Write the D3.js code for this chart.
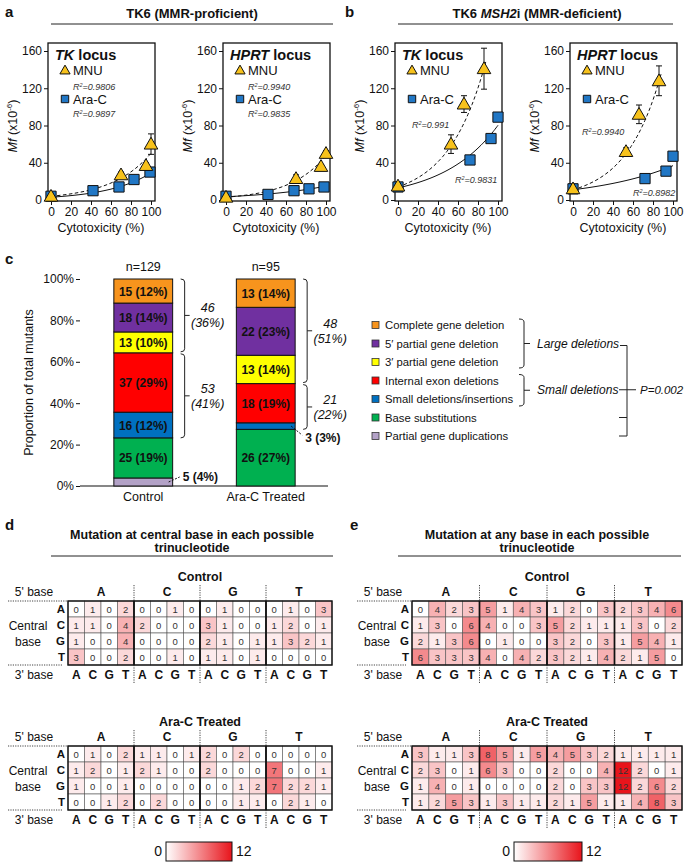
<!DOCTYPE html>
<html>
<head>
<meta charset="utf-8">
<script src="https://cdn.jsdelivr.net/npm/d3@7"></script>
<style>
  body { margin: 0; background: #fff; }
  svg { font-family: "Liberation Sans", Arial, Helvetica, sans-serif; }
</style>
</head>
<body>
<div id="fig"></div>
<script>
// ---------- panels a/b : mutant frequency vs cytotoxicity, [cytotox %, Mf, error]
var tkMnuA   = [[0, 4, 0], [70, 27, 3], [95, 37, 3], [100, 60, 11]];
var tkAraA   = [[0, 4, 0], [42, 10, 0], [68, 14, 0], [83, 22, 0], [99, 30, 0]];
var hprtMnuA = [[0, 3, 0], [70, 23, 4], [95, 36, 2], [100, 50, 3]];
var hprtAraA = [[0, 4, 0], [42, 6, 0], [68, 10, 0], [83, 12, 0], [98, 14, 0]];
var tkMnuB   = [[0, 15, 2], [53, 60, 10], [66, 103, 9], [86, 141, 22]];
var tkAraB   = [[0, 14, 0], [72, 43, 0], [93, 66, 0], [100, 89, 2]];
var hprtMnuB = [[0, 12, 0], [53, 52, 4], [66, 92, 10], [86, 128, 16]];
var hprtAraB = [[0, 12, 0], [72, 23, 0], [93, 31, 4], [100, 47, 0]];
// exponential fits, [intercept, rate, last x]  (MNU, Ara-C)
var tkFitA   = [[4, 0.0253, 100], [3, 0.0227, 100]];
var hprtFitA = [[3, 0.0277, 100], [3.5, 0.01455, 100]];
var tkFitB   = [[14, 0.0269, 88], [13, 0.0182, 100]];
var hprtFitB = [[11, 0.0285, 88], [11, 0.0121, 100]];
var r2Labels = [['0.9806', '0.9897'], ['0.9940', '0.9835'], ['0.991', '0.9831'], ['0.9940', '0.8982']];
var mfTicks = [0, 40, 80, 120, 160];
var cytoTicks = [0, 20, 40, 60, 80, 100];

// ---------- panel c : mutant classes (bottom to top)
var mutClasses = ['Partial gene duplications', 'Base substitutions', 'Small deletions/insertions',
  'Internal exon deletions', '3\u2032 partial gene deletion', '5\u2032 partial gene deletion', 'Complete gene deletion'];
var mutColors = ['#b3a2c7', '#00b050', '#0070c0', '#ff0000', '#ffff00', '#7030a0', '#f7941d'];
var groups = ['Control', 'Ara-C Treated'];
var controlCounts = [5, 25, 16, 37, 13, 18, 15];
var controlPct    = [4, 19, 12, 29, 10, 14, 12];
var aracCounts    = [0, 26, 3, 18, 13, 22, 13];
var aracPct       = [0, 27, 3, 19, 14, 23, 14];
var groupN = [129, 95];
var largeDel = [['46', '(36%)'], ['48', '(51%)']];
var smallDel = [['53', '(41%)'], ['21', '(22%)']];

// ---------- panels d/e : trinucleotide heat maps, rows = central base, cols = 5' block x 3' base
var bases = ['A', 'C', 'G', 'T'];
var dControl = [
  [0, 1, 0, 2, 0, 0, 1, 0, 0, 1, 0, 0, 0, 1, 0, 3],
  [1, 1, 0, 4, 2, 0, 0, 0, 3, 1, 0, 0, 1, 2, 0, 1],
  [1, 0, 0, 4, 0, 0, 0, 0, 2, 1, 0, 1, 1, 3, 2, 1],
  [3, 0, 0, 2, 0, 0, 1, 0, 1, 1, 0, 1, 0, 0, 0, 0]];
var dArac = [
  [0, 1, 0, 2, 1, 1, 0, 1, 2, 0, 2, 0, 0, 0, 0, 0],
  [1, 2, 0, 1, 2, 1, 0, 0, 2, 0, 0, 0, 7, 0, 0, 1],
  [1, 0, 0, 1, 0, 0, 0, 0, 0, 0, 1, 2, 7, 2, 2, 1],
  [0, 0, 1, 2, 0, 2, 0, 0, 0, 0, 1, 1, 0, 2, 1, 0]];
var eControl = [
  [0, 4, 2, 3, 5, 1, 4, 3, 1, 2, 0, 3, 2, 3, 4, 6],
  [1, 3, 0, 6, 4, 0, 0, 3, 5, 2, 1, 1, 1, 3, 0, 2],
  [2, 1, 3, 6, 0, 1, 0, 0, 3, 2, 0, 3, 1, 5, 4, 1],
  [6, 3, 3, 3, 4, 0, 4, 2, 3, 2, 1, 4, 2, 1, 5, 0]];
var eArac = [
  [3, 1, 1, 3, 8, 5, 1, 5, 4, 5, 3, 2, 1, 1, 1, 1],
  [2, 3, 0, 1, 6, 3, 0, 0, 2, 0, 0, 4, 12, 2, 0, 1],
  [1, 4, 0, 1, 0, 0, 0, 0, 2, 0, 3, 3, 12, 2, 6, 2],
  [1, 2, 5, 3, 1, 3, 1, 1, 2, 1, 5, 1, 1, 4, 8, 3]];
var heatMax = 12;

var svg = d3.select('#fig').append('svg').attr('width', 685).attr('height', 864);
var heatColor = d3.scaleLinear().domain([0, heatMax]).range(['#ffffff', '#e8141b']);

function txt(x, y, s, size, opts) {
  opts = opts || {};
  return svg.append('text').attr('x', x).attr('y', y).text(s)
    .attr('font-size', size)
    .attr('font-weight', opts.bold ? 'bold' : null)
    .attr('font-style', opts.italic ? 'italic' : null)
    .attr('text-anchor', opts.anchor || 'start')
    .attr('fill', '#111');
}

function panelHeader(letter, lx, ly, cx, parts, lineX1, lineX2, lineY, ty) {
  txt(lx, ly, letter, 15, {bold: true});
  var t = svg.append('text').attr('x', cx).attr('y', ty).attr('text-anchor', 'middle')
    .attr('font-size', 13).attr('font-weight', 'bold').attr('fill', '#111');
  parts.forEach(function(p){
    t.append('tspan').text(p[0]).attr('font-style', p[1] ? 'italic' : null);
  });
  svg.append('line').attr('x1', lineX1).attr('x2', lineX2).attr('y1', lineY).attr('y2', lineY)
    .attr('stroke', '#222').attr('stroke-width', 1);
}

// ---------------------------------------------------------------- a / b
function drawScatter(p) {
  var x = d3.scaleLinear().domain([0, 100]).range([p.x0 + 3, p.x0 + 103]);
  var y = d3.scaleLinear().domain([0, 160]).range([200, 51]);
  var g = svg.append('g');

  var ay = g.append('g').attr('transform', 'translate(' + p.x0 + ',0)')
    .call(d3.axisLeft(y).tickValues(mfTicks).tickSize(4).tickPadding(2));
  var ax = g.append('g').attr('transform', 'translate(0,201)')
    .call(d3.axisBottom(x).tickValues(cytoTicks).tickSize(4).tickPadding(2));
  [ay, ax].forEach(function(a){
    a.attr('font-family', null).attr('font-size', 12);
    a.select('.domain').remove();
    a.selectAll('line').attr('stroke', '#111');
    a.selectAll('text').attr('fill', '#111');
  });

  g.append('rect').attr('x', p.x0).attr('y', 43).attr('width', 107).attr('height', 158)
    .attr('fill', 'none').attr('stroke', '#111').attr('stroke-width', 1.3);

  // fitted curves
  var line = d3.line().x(function(d){ return x(d[0]); }).y(function(d){ return y(d[1]); });
  p.fit.forEach(function(f, i){
    var pts = d3.range(0, f[2] + 0.01, 1).map(function(v){ return [v, f[0] * Math.exp(f[1] * v)]; });
    g.append('path').attr('d', line(pts)).attr('fill', 'none').attr('stroke', '#111')
      .attr('stroke-width', 1).attr('stroke-dasharray', i === 0 ? '3.5,2.5' : null);
  });

  // error bars
  p.mnu.concat(p.ara).filter(function(d){ return d[2] > 0; }).forEach(function(d){
    var cx = x(d[0]);
    g.append('path').attr('d', 'M' + cx + ',' + y(d[1] - d[2]) + 'V' + y(d[1] + d[2]) +
      'M' + (cx - 3) + ',' + y(d[1] + d[2]) + 'H' + (cx + 3) +
      'M' + (cx - 3) + ',' + y(d[1] - d[2]) + 'H' + (cx + 3))
      .attr('stroke', '#111').attr('stroke-width', 1);
  });

  g.selectAll('.sq').data(p.ara).enter().append('path')
    .attr('d', d3.symbol(d3.symbolSquare).size(105))
    .attr('transform', function(d){ return 'translate(' + x(d[0]) + ',' + y(d[1]) + ')'; })
    .attr('fill', '#2177c5').attr('stroke', '#111').attr('stroke-width', 1);
  g.selectAll('.tri').data(p.mnu).enter().append('path')
    .attr('d', d3.symbol(d3.symbolTriangle).size(80))
    .attr('transform', function(d){ return 'translate(' + x(d[0]) + ',' + (y(d[1]) + 1) + ')'; })
    .attr('fill', '#f7c21c').attr('stroke', '#111').attr('stroke-width', 1);

  // in-box legend
  var t = g.append('text').attr('x', p.x0 + 7).attr('y', 60).attr('font-size', 14.5)
    .attr('font-weight', 'bold').attr('fill', '#111');
  t.append('tspan').text(p.locus).attr('font-style', 'italic');
  t.append('tspan').text(' locus');
  g.append('path').attr('d', d3.symbol(d3.symbolTriangle).size(45))
    .attr('transform', 'translate(' + (p.x0 + 17) + ',' + 71 + ')')
    .attr('fill', '#f7c21c').attr('stroke', '#111');
  g.append('text').attr('x', p.x0 + 25).attr('y', 75).attr('font-size', 13).attr('fill', '#111').text('MNU');
  g.append('path').attr('d', d3.symbol(d3.symbolSquare).size(55))
    .attr('transform', 'translate(' + (p.x0 + 17) + ',' + 99 + ')')
    .attr('fill', '#2177c5').attr('stroke', '#111');
  g.append('text').attr('x', p.x0 + 25).attr('y', 103.5).attr('font-size', 13).attr('fill', '#111').text('Ara-C');

  p.r2.forEach(function(r, i){
    var rt = g.append('text').attr('x', p.r2pos[i][0]).attr('y', p.r2pos[i][1])
      .attr('font-size', 9).attr('font-style', 'italic').attr('fill', '#333');
    rt.append('tspan').text('R');
    rt.append('tspan').text('2').attr('font-size', 5.5).attr('dy', -3.5);
    rt.append('tspan').text('=' + r).attr('dy', 3.5);
  });

  // axis titles
  var yl = g.append('text').attr('transform', 'translate(' + (p.x0 - 31) + ',126) rotate(-90)')
    .attr('text-anchor', 'middle').attr('font-size', 12.5).attr('fill', '#111');
  yl.append('tspan').text('Mf').attr('font-style', 'italic');
  yl.append('tspan').text(' (x10');
  yl.append('tspan').text('-6').attr('font-size', 8).attr('dy', -5);
  yl.append('tspan').text(')').attr('dy', 5);
  g.append('text').attr('x', p.x0 + 53).attr('y', 232).attr('text-anchor', 'middle')
    .attr('font-size', 12.5).attr('fill', '#111').text('Cytotoxicity (%)');
}

panelHeader('a', 5, 17, 192, [['TK6 (MMR-proficient)', false]], 51, 333, 24, 18);
panelHeader('b', 345, 17, 537, [['TK6 ', false], ['MSH2', true], ['i (MMR-deficient)', false]], 398, 673, 24, 18);

drawScatter({x0: 48, locus: 'TK', mnu: tkMnuA, ara: tkAraA, fit: tkFitA, r2: r2Labels[0], r2pos: [[73, 90], [73, 117]]});
drawScatter({x0: 223, locus: 'HPRT', mnu: hprtMnuA, ara: hprtAraA, fit: hprtFitA, r2: r2Labels[1], r2pos: [[248, 90], [248, 117]]});
drawScatter({x0: 395, locus: 'TK', mnu: tkMnuB, ara: tkAraB, fit: tkFitB, r2: r2Labels[2], r2pos: [[412, 128], [455, 183]]});
drawScatter({x0: 570, locus: 'HPRT', mnu: hprtMnuB, ara: hprtAraB, fit: hprtFitB, r2: r2Labels[3], r2pos: [[582, 135], [633, 196]]});

// ---------------------------------------------------------------- c
txt(5, 264, 'c', 15, {bold: true});
var yc = d3.scaleLinear().domain([0, 1]).range([486, 279]);
var xc = d3.scaleBand().domain(groups).range([82, 327]).paddingInner(0.52).paddingOuter(0.26);

var tableRows = groups.map(function(gname, gi){
  var counts = gi === 0 ? controlCounts : aracCounts;
  var row = {group: gname};
  mutClasses.forEach(function(k, i){ row[k] = counts[i] / groupN[gi]; });
  return row;
});
var stacked = d3.stack().keys(mutClasses)(tableRows);

var cy = svg.append('g').attr('transform', 'translate(80,0)')
  .call(d3.axisLeft(yc).tickValues([0, 0.2, 0.4, 0.6, 0.8, 1]).tickFormat(d3.format('.0%')).tickSize(4).tickPadding(2));
cy.attr('font-family', null).attr('font-size', 12);
cy.select('.domain').remove();
cy.selectAll('text').attr('fill', '#111');
cy.selectAll('line').attr('stroke', '#111');
svg.append('line').attr('x1', 80).attr('x2', 328).attr('y1', yc(0)).attr('y2', yc(0)).attr('stroke', '#111').attr('stroke-width', 1.2);
svg.append('text').attr('transform', 'translate(33,' + yc(0.5) + ') rotate(-90)').attr('text-anchor', 'middle')
  .attr('font-size', 12.5).attr('fill', '#111').text('Proportion of total mutants');

stacked.forEach(function(layer, li){
  svg.selectAll('.seg' + li).data(layer).enter().append('rect')
    .attr('x', function(d){ return xc(d.data.group); })
    .attr('width', xc.bandwidth())
    .attr('y', function(d){ return yc(d[1]); })
    .attr('height', function(d){ return yc(d[0]) - yc(d[1]); })
    .attr('fill', mutColors[li])
    .attr('stroke', function(d){ return d[1] > d[0] ? '#111' : 'none'; })
    .attr('stroke-width', 1);
});

// small segments get a dashed leader line; control points up, Ara-C down
var calloutDy = [-5, 9];
groups.forEach(function(gname, gi){
  var counts = gi === 0 ? controlCounts : aracCounts;
  var pct = gi === 0 ? controlPct : aracPct;
  var cx = xc(gname) + xc.bandwidth() / 2;
  stacked.forEach(function(layer, li){
    var d = layer[gi];
    var h = yc(d[0]) - yc(d[1]);
    if (counts[li] === 0) return;
    var label = counts[li] + ' (' + pct[li] + '%)';
    if (h > 14) {
      txt(cx, (yc(d[0]) + yc(d[1])) / 2 + 4.5, label, 12, {bold: true, anchor: 'middle'});
    } else {
      var ym = (yc(d[0]) + yc(d[1])) / 2;
      var ex = xc(gname) + xc.bandwidth();
      var dy = calloutDy[gi];
      svg.append('line').attr('x1', ex - 4).attr('y1', ym).attr('x2', ex + 7).attr('y2', ym + dy)
        .attr('stroke', '#111').attr('stroke-dasharray', '2,1.5');
      txt(ex + 10, ym + dy + (dy > 0 ? 7 : 4), label, 12, {bold: true});
    }
  });
  txt(cx, 271, 'n=' + groupN[gi], 12.5, {anchor: 'middle'});
  txt(cx, 501, gname, 12.5, {anchor: 'middle'});
});

function brace(x, y1, y2, hook, tick) {
  var ym = (y1 + y2) / 2;
  svg.append('path')
    .attr('d', 'M' + (x - hook) + ',' + y1 + 'Q' + x + ',' + y1 + ' ' + x + ',' + (y1 + 3) +
      'V' + (y2 - 3) + 'Q' + x + ',' + y2 + ' ' + (x - hook) + ',' + y2 +
      'M' + x + ',' + ym + 'H' + (x + tick))
    .attr('fill', 'none').attr('stroke', '#222').attr('stroke-width', 1);
  return ym;
}

groups.forEach(function(gname, gi){
  var bx = xc(gname) + xc.bandwidth() + 12;
  var top = stacked[6][gi][1], largeLow = stacked[4][gi][0], smallLow = stacked[2][gi][0];
  var m1 = brace(bx, yc(top), yc(largeLow) - 1, 4, 5);
  var m2 = brace(bx, yc(largeLow) + 1, yc(smallLow), 4, 5);
  txt(bx + 23, m1 - 3, largeDel[gi][0], 12.5, {italic: true, anchor: 'middle'});
  txt(bx + 23, m1 + 12, largeDel[gi][1], 12.5, {italic: true, anchor: 'middle'});
  txt(bx + 23, m2 - 3, smallDel[gi][0], 12.5, {italic: true, anchor: 'middle'});
  txt(bx + 23, m2 + 12, smallDel[gi][1], 12.5, {italic: true, anchor: 'middle'});
});

// legend (top to bottom)
var legY = d3.scaleLinear().domain([0, 6]).range([325, 436]);
mutClasses.slice().reverse().forEach(function(k, i){
  var c = mutColors[mutClasses.length - 1 - i];
  svg.append('rect').attr('x', 372).attr('y', legY(i) - 3.5).attr('width', 7).attr('height', 7)
    .attr('fill', c).attr('stroke', '#333').attr('stroke-width', 0.8);
  txt(385, legY(i) + 4, k, 11.3);
});
brace(524, legY(0) - 6, legY(2) + 6, 5, 6);
brace(524, legY(3) - 6, legY(4) + 7, 5, 6);
txt(537, legY(1) + 4.5, 'Large deletions', 12, {italic: true});
txt(537, (legY(3) + legY(4)) / 2 + 4.5, 'Small deletions', 12, {italic: true});
var oy1 = legY(1) + 2, oy2 = legY(6), om = (legY(3) + legY(4)) / 2;
svg.append('path')
  .attr('d', 'M620,' + oy1 + 'H627V' + oy2 + 'H619M619,' + legY(5) + 'H627M619,' + om + 'H636')
  .attr('fill', 'none').attr('stroke', '#222').attr('stroke-width', 1);
txt(640, om + 4.5, 'P=0.002', 11.5, {italic: true});

// ---------------------------------------------------------------- d / e
function drawHeat(h) {
  var cols = d3.scaleBand().domain(d3.range(16)).range([h.x0, h.x0 + 16 * h.cw]);
  var rows = d3.scaleBand().domain(bases).range([h.top, h.top + 4 * h.ch]);
  var bottom = h.top + 4 * h.ch;
  var g = svg.append('g');

  txt(h.x0 + 8 * h.cw, h.top - 20, h.title, 12.5, {bold: true, anchor: 'middle'});
  txt(h.labX, h.top - 5, '5\' base', 12, {anchor: 'middle'});
  bases.forEach(function(b, i){
    txt(cols(i * 4) + 2 * h.cw, h.top - 5, b, 12, {bold: true, anchor: 'middle'});
    txt(h.x0 - 3, rows(b) + h.ch / 2 + 4, b, 11.5, {bold: true, anchor: 'end'});
  });
  txt(h.labX, bottom + 14, '3\' base', 12, {anchor: 'middle'});
  txt(h.labX - 6, rows('C') + h.ch / 2 + 4.5, 'Central', 12, {anchor: 'middle'});
  txt(h.labX - 6, rows('G') + h.ch / 2 + 4.5, 'base', 12, {anchor: 'middle'});

  g.append('line').attr('x1', h.labX - 26).attr('x2', h.x0).attr('y1', h.top).attr('y2', h.top)
    .attr('stroke', '#444').attr('stroke-dasharray', '1.2,1.2');
  g.append('line').attr('x1', h.labX - 26).attr('x2', h.x0 - 6).attr('y1', bottom).attr('y2', bottom)
    .attr('stroke', '#444').attr('stroke-dasharray', '1.2,1.2');

  var cells = [];
  h.data.forEach(function(r, ri){ r.forEach(function(v, ci){ cells.push({r: bases[ri], c: ci, v: v}); }); });
  g.selectAll('.cell').data(cells).enter().append('rect')
    .attr('x', function(d){ return cols(d.c); }).attr('y', function(d){ return rows(d.r); })
    .attr('width', cols.bandwidth()).attr('height', rows.bandwidth())
    .attr('fill', function(d){ return heatColor(d.v); })
    .attr('stroke', '#555').attr('stroke-width', 0.6);
  g.selectAll('.num').data(cells).enter().append('text')
    .attr('x', function(d){ return cols(d.c) + cols.bandwidth() / 2; })
    .attr('y', function(d){ return rows(d.r) + rows.bandwidth() / 2 + 3.5; })
    .attr('text-anchor', 'middle').attr('font-size', 9.5).attr('fill', '#333')
    .text(function(d){ return d.v; });

  d3.range(4).forEach(function(k){
    g.append('rect').attr('x', cols(k * 4)).attr('y', h.top).attr('width', 4 * h.cw).attr('height', 4 * h.ch)
      .attr('fill', 'none').attr('stroke', '#111').attr('stroke-width', 1.4);
    if (k > 0) {
      [[h.top - 16, h.top], [bottom, bottom + 18]].forEach(function(s){
        g.append('line').attr('x1', cols(k * 4)).attr('x2', cols(k * 4)).attr('y1', s[0]).attr('y2', s[1])
          .attr('stroke', '#444').attr('stroke-dasharray', '1.2,1.2');
      });
    }
    bases.forEach(function(b, i){
      txt(cols(k * 4 + i) + h.cw / 2, bottom + 14, b, 12, {bold: true, anchor: 'middle'});
    });
  });
}

function heatHeader(letter, lx, cx, x1, x2) {
  txt(lx, 530, letter, 15, {bold: true});
  txt(cx, 539, 'Mutation at ' + (letter === 'd' ? 'central base' : 'any base') + ' in each possible', 12.5, {bold: true, anchor: 'middle'});
  txt(cx, 552, 'trinucleotide', 12.5, {bold: true, anchor: 'middle'});
  svg.append('line').attr('x1', x1).attr('x2', x2).attr('y1', 556).attr('y2', 556).attr('stroke', '#222');
}
heatHeader('d', 5, 192, 51, 333);
heatHeader('e', 350, 537, 398, 681);

drawHeat({x0: 68, cw: 16.5, top: 601, ch: 16, labX: 34, title: 'Control', data: dControl});
drawHeat({x0: 68, cw: 16.5, top: 746, ch: 16, labX: 34, title: 'Ara-C Treated', data: dArac});
drawHeat({x0: 412, cw: 16.875, top: 601, ch: 16, labX: 383, title: 'Control', data: eControl});
drawHeat({x0: 412, cw: 16.875, top: 746, ch: 16, labX: 383, title: 'Ara-C Treated', data: eArac});

// colour bars
var grad = svg.append('defs').append('linearGradient').attr('id', 'heatGrad');
grad.append('stop').attr('offset', '0%').attr('stop-color', heatColor(0));
grad.append('stop').attr('offset', '100%').attr('stop-color', heatColor(heatMax));
[[166, 232], [514, 582]].forEach(function(b){
  svg.append('rect').attr('x', b[0]).attr('y', 842).attr('width', b[1] - b[0]).attr('height', 19)
    .attr('fill', 'url(#heatGrad)').attr('stroke', '#111').attr('stroke-width', 1);
  txt(b[0] - 4, 856, '0', 14, {anchor: 'end'});
  txt(b[1] + 4, 856, String(heatMax), 14);
});
</script>
</body>
</html>
